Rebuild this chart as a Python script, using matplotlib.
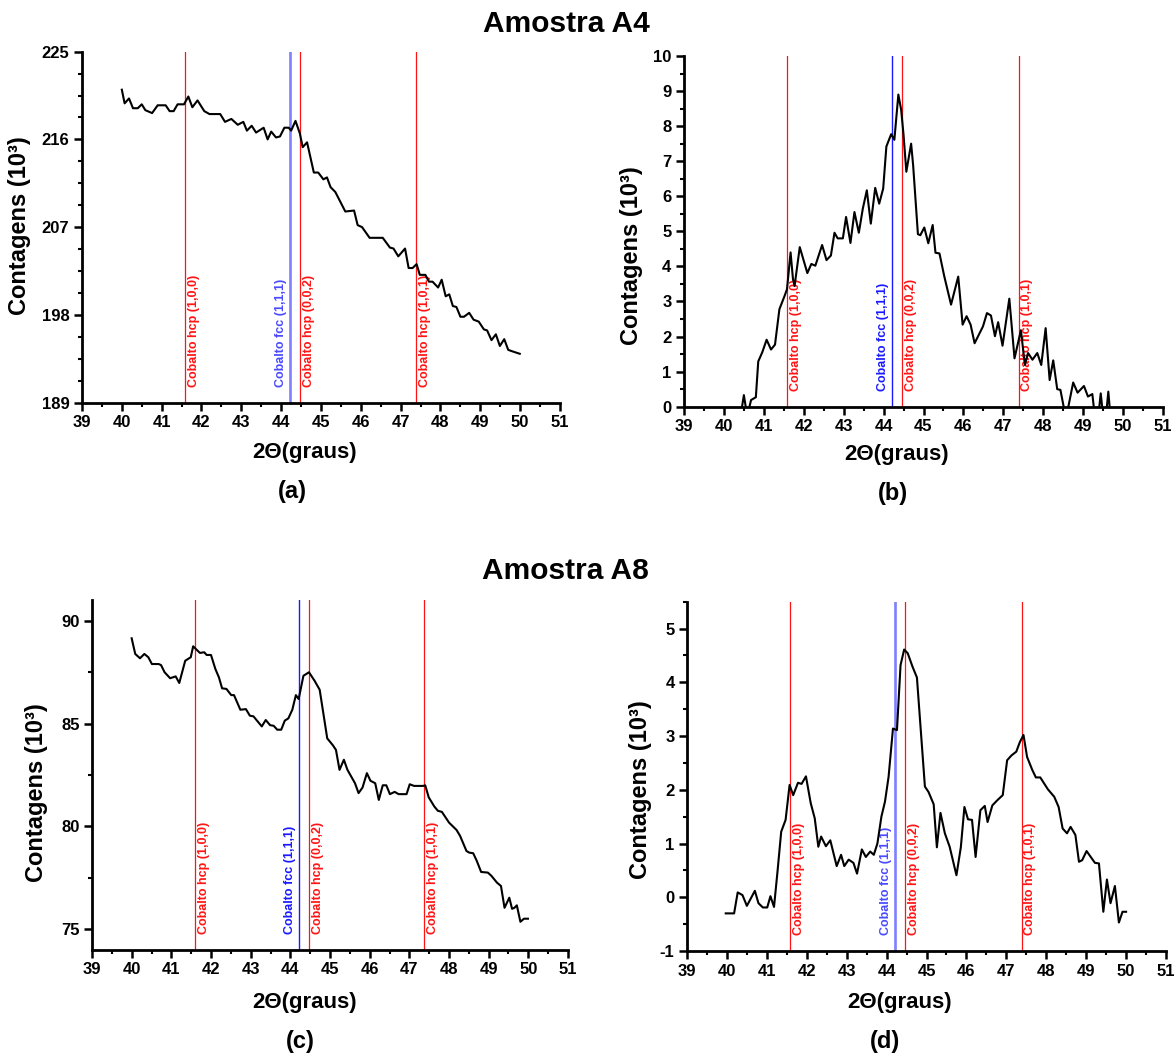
import matplotlib
matplotlib.use('Agg')
import matplotlib.pyplot as plt
from matplotlib.ticker import MultipleLocator, FixedLocator
import matplotlib.transforms as mtrans

plt.rcParams['font.family'] = ['Liberation Sans', 'DejaVu Sans']
plt.rcParams['font.weight'] = 'bold'
plt.rcParams['axes.unicode_minus'] = False

# ---------------- data ----------------
a_data = [(40.00, 221.1), (40.07, 219.7), (40.18, 220.2), (40.28, 219.2), (40.40, 219.2),
          (40.50, 219.6), (40.59, 219.0), (40.76, 218.7), (40.90, 219.5), (41.10, 219.5),
          (41.20, 218.9), (41.30, 218.9), (41.40, 219.6), (41.56, 219.6), (41.67, 220.4),
          (41.77, 219.3), (41.90, 220.0), (42.07, 218.9), (42.20, 218.6), (42.47, 218.6),
          (42.59, 217.8), (42.75, 218.1), (42.91, 217.5), (43.05, 217.8), (43.14, 216.9),
          (43.26, 217.4), (43.37, 216.7), (43.56, 217.2), (43.66, 216.0), (43.75, 216.8),
          (43.87, 216.2), (43.97, 216.3), (44.08, 217.2), (44.19, 217.2), (44.25, 216.9),
          (44.36, 217.9), (44.47, 216.6), (44.54, 215.2), (44.65, 215.7), (44.82, 212.6),
          (44.93, 212.6), (45.06, 211.9), (45.15, 212.1), (45.24, 211.1), (45.36, 210.6),
          (45.61, 208.6), (45.83, 208.7), (45.92, 207.2), (46.03, 207.0), (46.22, 205.9),
          (46.55, 205.9), (46.73, 204.9), (46.82, 204.8), (46.94, 204.0), (47.11, 204.8),
          (47.20, 202.8), (47.30, 202.8), (47.40, 203.2), (47.48, 202.1), (47.62, 202.1),
          (47.71, 201.4), (47.80, 201.4), (47.94, 200.8), (48.03, 201.6), (48.13, 199.9),
          (48.22, 200.1), (48.31, 198.9), (48.40, 198.8), (48.50, 197.8), (48.59, 197.8),
          (48.72, 198.2), (48.83, 197.5), (48.96, 197.3), (49.09, 196.5), (49.17, 196.4),
          (49.28, 195.4), (49.39, 196.0), (49.49, 194.8), (49.60, 195.5), (49.70, 194.4),
          (49.84, 194.2), (49.99, 194.0)]

b_data = [(40.44, -0.10), (40.50, 0.33), (40.56, -0.10), (40.63, -0.05), (40.68, 0.19),
          (40.80, 0.27), (40.86, 1.29), (40.96, 1.55), (41.07, 1.91), (41.18, 1.63),
          (41.28, 1.77), (41.39, 2.78), (41.52, 3.16), (41.58, 3.35), (41.67, 4.40),
          (41.73, 3.64), (41.77, 3.44), (41.90, 4.55), (42.09, 3.81), (42.19, 4.07),
          (42.29, 4.02), (42.46, 4.61), (42.57, 4.18), (42.68, 4.31), (42.77, 4.96),
          (42.85, 4.80), (42.98, 4.80), (43.06, 5.41), (43.17, 4.67), (43.27, 5.55),
          (43.38, 4.96), (43.48, 5.65), (43.58, 6.17), (43.68, 5.22), (43.79, 6.24),
          (43.89, 5.79), (43.99, 6.22), (44.07, 7.42), (44.19, 7.77), (44.27, 7.61),
          (44.37, 8.90), (44.44, 8.47), (44.50, 7.75), (44.57, 6.70), (44.69, 7.50),
          (44.74, 6.89), (44.86, 4.92), (44.92, 4.89), (45.02, 5.11), (45.12, 4.66),
          (45.23, 5.18), (45.30, 4.39), (45.40, 4.37), (45.52, 3.72), (45.69, 2.91),
          (45.87, 3.71), (45.98, 2.34), (46.08, 2.58), (46.18, 2.34), (46.28, 1.81),
          (46.49, 2.29), (46.59, 2.67), (46.69, 2.60), (46.79, 2.01), (46.87, 2.41),
          (46.98, 1.74), (47.15, 3.08), (47.28, 1.38), (47.44, 2.18), (47.54, 1.19),
          (47.62, 1.53), (47.73, 1.34), (47.85, 1.53), (47.95, 1.19), (48.06, 2.24),
          (48.16, 0.76), (48.25, 1.32), (48.35, 0.50), (48.43, 0.48), (48.52, -0.05),
          (48.62, -0.05), (48.75, 0.69), (48.86, 0.40), (49.02, 0.59), (49.12, 0.29),
          (49.23, 0.36), (49.27, -0.05), (49.40, -0.05), (49.44, 0.38), (49.48, -0.05),
          (49.59, -0.05), (49.63, 0.43), (49.67, -0.10)]

c_data = [(40.00, 89.14), (40.09, 88.38), (40.21, 88.17), (40.32, 88.38), (40.42, 88.22),
          (40.51, 87.89), (40.68, 87.89), (40.74, 87.84), (40.83, 87.49), (40.97, 87.20),
          (41.11, 87.29), (41.20, 86.97), (41.35, 88.05), (41.49, 88.22), (41.55, 88.75),
          (41.72, 88.43), (41.83, 88.46), (41.89, 88.33), (42.00, 88.33), (42.11, 87.65),
          (42.20, 87.24), (42.28, 86.71), (42.39, 86.68), (42.51, 86.38), (42.58, 86.38),
          (42.74, 85.67), (42.88, 85.70), (42.98, 85.38), (43.07, 85.35), (43.16, 85.14),
          (43.28, 84.86), (43.38, 85.17), (43.49, 84.92), (43.58, 84.89), (43.67, 84.70),
          (43.77, 84.70), (43.86, 85.14), (43.95, 85.25), (44.05, 85.67), (44.14, 86.38),
          (44.21, 86.19), (44.33, 87.32), (44.47, 87.49), (44.61, 87.08), (44.74, 86.64),
          (44.93, 84.28), (45.07, 83.95), (45.15, 83.72), (45.24, 82.75), (45.35, 83.24),
          (45.44, 82.75), (45.63, 82.10), (45.72, 81.62), (45.82, 81.89), (45.93, 82.59),
          (46.02, 82.22), (46.14, 82.10), (46.23, 81.29), (46.33, 82.00), (46.42, 82.00),
          (46.51, 81.57), (46.63, 81.68), (46.73, 81.57), (46.93, 81.57), (47.01, 82.05),
          (47.12, 81.97), (47.35, 81.97), (47.40, 82.00), (47.49, 81.41), (47.63, 80.97),
          (47.72, 80.76), (47.82, 80.71), (48.00, 80.19), (48.19, 79.83), (48.28, 79.54),
          (48.44, 78.81), (48.51, 78.73), (48.61, 78.70), (48.70, 78.33), (48.81, 77.79),
          (48.98, 77.76), (49.07, 77.60), (49.21, 77.27), (49.31, 77.11), (49.40, 76.05),
          (49.52, 76.54), (49.59, 76.00), (49.65, 76.05), (49.71, 76.17), (49.80, 75.37),
          (49.89, 75.52), (49.99, 75.52)]

d_data = [(39.97, -0.30), (40.18, -0.30), (40.27, 0.09), (40.39, 0.04), (40.50, -0.16),
          (40.70, 0.12), (40.79, -0.11), (40.90, -0.19), (41.01, -0.19), (41.09, 0.02),
          (41.18, -0.18), (41.27, 0.50), (41.36, 1.22), (41.47, 1.44), (41.57, 2.09),
          (41.66, 1.90), (41.78, 2.13), (41.87, 2.11), (41.98, 2.25), (42.10, 1.75),
          (42.20, 1.47), (42.29, 0.94), (42.36, 1.13), (42.48, 0.95), (42.59, 1.06),
          (42.75, 0.58), (42.86, 0.79), (42.94, 0.58), (43.05, 0.70), (43.17, 0.64),
          (43.26, 0.44), (43.38, 0.89), (43.48, 0.75), (43.59, 0.85), (43.68, 0.79),
          (43.77, 1.00), (43.87, 1.50), (43.96, 1.78), (44.05, 2.24), (44.16, 3.14),
          (44.26, 3.11), (44.35, 4.32), (44.44, 4.61), (44.53, 4.54), (44.65, 4.29),
          (44.76, 4.09), (44.96, 2.06), (45.05, 1.96), (45.18, 1.73), (45.26, 0.93),
          (45.35, 1.57), (45.46, 1.19), (45.58, 0.94), (45.75, 0.41), (45.86, 0.93),
          (45.95, 1.68), (46.04, 1.45), (46.14, 1.44), (46.23, 0.75), (46.35, 1.62),
          (46.46, 1.70), (46.53, 1.40), (46.65, 1.71), (46.78, 1.81), (46.91, 1.90),
          (47.02, 2.55), (47.13, 2.64), (47.25, 2.71), (47.34, 2.89), (47.43, 3.02),
          (47.52, 2.61), (47.65, 2.37), (47.74, 2.23), (47.85, 2.23), (48.04, 2.01),
          (48.20, 1.87), (48.31, 1.68), (48.41, 1.28), (48.52, 1.19), (48.61, 1.31),
          (48.73, 1.16), (48.82, 0.66), (48.90, 0.69), (49.01, 0.86), (49.22, 0.64),
          (49.32, 0.63), (49.43, -0.27), (49.52, 0.33), (49.61, -0.11), (49.72, 0.21),
          (49.82, -0.47), (49.91, -0.27), (50.00, -0.27)]

peak_pos = [41.59, 44.21, 44.47, 47.38]
peak_labels = ['Cobalto hcp (1,0,0)', 'Cobalto fcc (1,1,1)',
               'Cobalto hcp (0,0,2)', 'Cobalto hcp (1,0,1)']
peak_phase = ['hcp', 'fcc', 'hcp', 'hcp']

a_yticks = [189, 198, 207, 216, 225]
b_yticks = [0, 1, 2, 3, 4, 5, 6, 7, 8, 9, 10]
c_yticks = [75, 80, 85, 90]
d_yticks = [-1, 0, 1, 2, 3, 4, 5]
x_ticks = [39, 40, 41, 42, 43, 44, 45, 46, 47, 48, 49, 50, 51]

titles = ['Amostra A4', 'Amostra A8']
panel_letters = ['(a)', '(b)', '(c)', '(d)']
x_label = '2\u0398(graus)'
y_label = 'Contagens (10\u00b3)'

# ---------------- figure ----------------
W, H = 1176, 1054
fig = plt.figure(figsize=(W / 100, H / 100), dpi=100)


def axes_px(l, t, r, b):
    return fig.add_axes([l / W, 1 - b / H, (r - l) / W, (b - t) / H])


def ftext(x, y, s, **kw):
    fig.text(x / W, 1 - y / H, s, **kw)


panels = [
    dict(data=a_data, box=(82, 51.7, 560, 402.5), ylim=(189, 225), yt=a_yticks, ymin=2.25,
         blue='#7f7fff', bluetext='#4a4aff', bluelw=1.9, ylc=(-0.107, 0.505),
         xl=(305, 458), let=(292, 498)),
    dict(data=b_data, box=(684, 56, 1163, 406.7), ylim=(0, 10), yt=b_yticks, ymin=0.5,
         blue='#1a1aff', bluetext='#1a1aff', bluelw=1.0, ylc=(-0.086, 0.43),
         xl=(897, 460), let=(893, 500)),
    dict(data=c_data, box=(92, 600, 568, 950), ylim=(74, 91), yt=c_yticks, ymin=2.5,
         blue='#1a1aff', bluetext='#1a1aff', bluelw=1.0, ylc=(-0.092, 0.449),
         xl=(305, 1008), let=(300, 1048)),
    dict(data=d_data, box=(687, 601.7, 1166, 951), ylim=(-1, 5.5), yt=d_yticks, ymin=0.5,
         blue='#7f7fff', bluetext='#4a4aff', bluelw=1.9, ylc=(-0.073, 0.461),
         xl=(900, 1008), let=(885, 1048)),
]

for i, p in enumerate(panels):
    ax = axes_px(*p['box'])
    xs = [pt[0] for pt in p['data']]
    ys = [pt[1] for pt in p['data']]
    ax.set_xlim(39, 51)
    ax.set_ylim(*p['ylim'])

    trans = mtrans.blended_transform_factory(ax.transData, ax.transAxes)
    for pos, lab, ph in zip(peak_pos, peak_labels, peak_phase):
        if ph == 'fcc':
            ax.axvline(pos, color=p['blue'], lw=p['bluelw'], zorder=1)
            ax.text(pos - 0.07, 0.045, lab, rotation=90, ha='right', va='bottom',
                    fontsize=9, color=p['bluetext'], transform=trans, fontweight='bold')
        else:
            ax.axvline(pos, color='#ff1414', lw=0.9, zorder=1)
            ax.text(pos + 0.07, 0.045, lab, rotation=90, ha='left', va='bottom',
                    fontsize=9, color='#ff1414', transform=trans, fontweight='bold')

    ax.plot(xs, ys, color='black', lw=1.5, zorder=3)

    ax.xaxis.set_major_locator(FixedLocator(x_ticks))
    ax.xaxis.set_minor_locator(MultipleLocator(0.5))
    ax.yaxis.set_major_locator(FixedLocator(p['yt']))
    ax.yaxis.set_minor_locator(MultipleLocator(p['ymin']))
    for s in ['top', 'right']:
        ax.spines[s].set_visible(False)
    for s in ['left', 'bottom']:
        ax.spines[s].set_linewidth(2.0)
        ax.spines[s].set_zorder(4)
    ax.tick_params(which='major', direction='out', length=5.5, width=1.8, labelsize=12)
    ax.tick_params(which='minor', direction='out', length=3, width=1.5)
    for lbl in ax.get_xticklabels() + ax.get_yticklabels():
        lbl.set_fontweight('bold')

    ax.set_ylabel(y_label, fontsize=17, fontweight='bold')
    ax.yaxis.set_label_coords(*p['ylc'])

    ftext(p['xl'][0], p['xl'][1], x_label, fontsize=16, fontweight='bold',
          ha='center', va='baseline')
    ftext(p['let'][0], p['let'][1], panel_letters[i], fontsize=17, fontweight='heavy',
          ha='center', va='baseline')

ftext(566, 31.7, titles[0], fontsize=21.5, fontweight='bold', ha='center', va='baseline')
ftext(565, 579, titles[1], fontsize=21.5, fontweight='bold', ha='center', va='baseline')

fig.savefig('out.png', dpi=100)
